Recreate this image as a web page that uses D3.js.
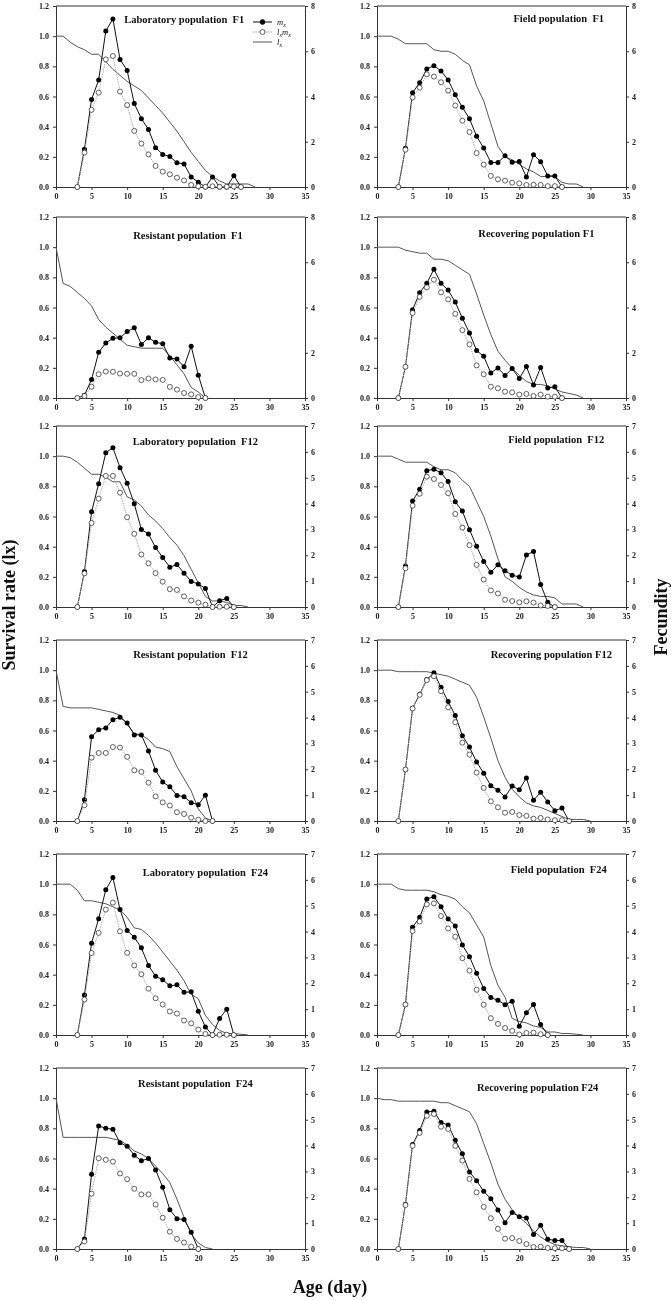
<!DOCTYPE html>
<html>
<head>
<meta charset="utf-8">
<script src="https://cdn.jsdelivr.net/npm/d3@7"></script>
<style>
body { margin: 0; background: #fff; }
svg { will-change: transform; }
text { font-family: "Liberation Serif", "Times New Roman", serif; font-weight: bold; fill: #111; }
</style>
</head>
<body>
<div id="chart"></div>
<script>
// ages: mx and lxmx start at day 3, lx starts at day 0
const mxStart = 3;

const labF1_mx   = [0, 1.67, 3.87, 4.73, 6.90, 7.43, 5.64, 5.15, 3.69, 3.02, 2.54, 1.74, 1.44, 1.35, 1.07, 1.02, 0.44, 0.21, 0, 0.44, 0, 0, 0.50, 0];
const labF1_lxmx = [0, 1.52, 3.41, 4.17, 5.64, 5.79, 4.22, 3.62, 2.48, 1.92, 1.44, 0.93, 0.68, 0.56, 0.41, 0.29, 0.09, 0.03, 0.01, 0.03, 0.01, 0.01, 0.02, 0];
const labF1_lx   = [1.0, 1.0, 0.96, 0.93, 0.91, 0.88, 0.88, 0.83, 0.78, 0.74, 0.70, 0.67, 0.64, 0.59, 0.54, 0.49, 0.43, 0.37, 0.30, 0.23, 0.17, 0.11, 0.07, 0.04, 0.02, 0.02, 0.02, 0.02, 0];

const fieldF1_mx   = [0, 1.71, 4.17, 4.61, 5.22, 5.36, 5.13, 4.73, 4.08, 3.52, 3.02, 2.24, 1.72, 1.08, 1.08, 1.38, 1.09, 1.13, 0.44, 1.43, 1.12, 0.49, 0.49, 0];
const fieldF1_lxmx = [0, 1.65, 3.96, 4.39, 4.98, 4.88, 4.63, 4.26, 3.60, 2.93, 2.43, 1.50, 0.99, 0.49, 0.34, 0.28, 0.19, 0.16, 0.09, 0.10, 0.09, 0.04, 0.04, 0];
const fieldF1_lx   = [1.0, 1.0, 1.0, 0.98, 0.95, 0.95, 0.95, 0.95, 0.91, 0.90, 0.90, 0.88, 0.84, 0.81, 0.67, 0.57, 0.42, 0.27, 0.20, 0.18, 0.15, 0.12, 0.10, 0.07, 0.07, 0.07, 0.03, 0.02, 0.02, 0];

const resF1_mx   = [0, 0.12, 0.82, 2.02, 2.43, 2.64, 2.66, 2.94, 3.10, 2.37, 2.66, 2.46, 2.40, 1.77, 1.72, 1.38, 2.29, 1.01, 0];
const resF1_lxmx = [0, 0.09, 0.50, 1.05, 1.17, 1.16, 1.08, 1.07, 1.07, 0.79, 0.86, 0.82, 0.80, 0.49, 0.37, 0.22, 0.16, 0.04, 0];
const resF1_lx   = [1.0, 0.76, 0.74, 0.70, 0.66, 0.61, 0.52, 0.47, 0.43, 0.39, 0.35, 0.34, 0.33, 0.33, 0.33, 0.33, 0.28, 0.22, 0.16, 0.07, 0.04, 0];

const recF1_mx   = [0, 1.38, 3.90, 4.65, 5.07, 5.69, 5.07, 4.77, 4.24, 3.53, 2.87, 2.10, 1.84, 1.11, 1.33, 0.99, 1.30, 0.86, 1.39, 0.58, 1.35, 0.44, 0.50, 0];
const recF1_lxmx = [0, 1.38, 3.76, 4.47, 4.89, 5.23, 4.67, 4.36, 3.72, 3.00, 2.37, 1.44, 1.05, 0.50, 0.43, 0.28, 0.25, 0.15, 0.18, 0.09, 0.15, 0.06, 0.06, 0];
const recF1_lx   = [1.0, 1.0, 1.0, 1.0, 0.98, 0.97, 0.96, 0.96, 0.92, 0.92, 0.91, 0.88, 0.85, 0.82, 0.69, 0.55, 0.42, 0.31, 0.25, 0.20, 0.15, 0.11, 0.09, 0.09, 0.08, 0.06, 0.04, 0.03, 0.02, 0];

const labF12_mx   = [0, 1.37, 3.68, 4.77, 5.97, 6.16, 5.39, 4.79, 3.99, 3.00, 2.82, 2.30, 1.91, 1.54, 1.64, 1.31, 0.99, 0.89, 0.72, 0, 0.24, 0.33, 0];
const labF12_lxmx = [0, 1.30, 3.25, 4.19, 5.07, 5.07, 4.42, 3.47, 2.83, 2.03, 1.69, 1.31, 0.98, 0.69, 0.66, 0.41, 0.25, 0.17, 0.09, 0, 0.01, 0.01, 0];
const labF12_lx   = [1.0, 1.0, 0.99, 0.96, 0.92, 0.88, 0.88, 0.86, 0.83, 0.83, 0.73, 0.71, 0.67, 0.61, 0.57, 0.52, 0.46, 0.41, 0.34, 0.25, 0.16, 0.07, 0.04, 0.04, 0.03, 0.01, 0.01, 0];

const fieldF12_mx   = [0, 1.59, 4.10, 4.55, 5.27, 5.33, 5.19, 4.85, 4.07, 3.71, 2.99, 2.35, 1.76, 1.34, 1.63, 1.40, 1.23, 1.16, 2.01, 2.15, 0.87, 0.18, 0];
const fieldF12_lxmx = [0, 1.50, 3.92, 4.38, 5.04, 4.95, 4.72, 4.40, 3.60, 3.07, 2.39, 1.63, 1.06, 0.64, 0.52, 0.28, 0.23, 0.18, 0.22, 0.17, 0.06, 0.04, 0];
const fieldF12_lx   = [1.0, 1.0, 1.0, 0.98, 0.96, 0.96, 0.96, 0.96, 0.93, 0.91, 0.91, 0.89, 0.84, 0.80, 0.70, 0.60, 0.47, 0.32, 0.20, 0.17, 0.13, 0.10, 0.08, 0.07, 0.07, 0.06, 0.02, 0.02, 0.02, 0];

const resF12_mx   = [0, 0.82, 3.26, 3.53, 3.60, 3.92, 4.01, 3.79, 3.33, 3.33, 2.71, 1.96, 1.51, 1.32, 0.99, 0.94, 0.71, 0.63, 1.00, 0];
const resF12_lxmx = [0, 0.61, 2.45, 2.63, 2.63, 2.86, 2.84, 2.48, 1.96, 1.90, 1.48, 0.95, 0.72, 0.60, 0.34, 0.27, 0.13, 0.05, 0, 0];
const resF12_lx   = [1.0, 0.76, 0.75, 0.75, 0.75, 0.75, 0.74, 0.73, 0.72, 0.70, 0.64, 0.58, 0.57, 0.54, 0.49, 0.48, 0.46, 0.36, 0.28, 0.20, 0.08, 0.02, 0];

const recF12_mx   = [0, 1.99, 4.36, 4.90, 5.47, 5.73, 5.17, 4.62, 4.08, 3.30, 2.86, 2.28, 1.85, 1.36, 1.19, 0.93, 1.35, 1.21, 1.66, 0.80, 1.11, 0.73, 0.40, 0.50, 0];
const recF12_lxmx = [0, 1.99, 4.35, 4.88, 5.45, 5.60, 5.02, 4.40, 3.82, 3.03, 2.57, 1.87, 1.28, 0.76, 0.53, 0.32, 0.35, 0.23, 0.20, 0.09, 0.12, 0.06, 0.03, 0.03, 0];
const recF12_lx   = [1.0, 1.0, 1.0, 0.99, 0.99, 0.99, 0.99, 0.99, 0.98, 0.97, 0.96, 0.94, 0.92, 0.90, 0.82, 0.69, 0.55, 0.40, 0.29, 0.21, 0.16, 0.12, 0.10, 0.09, 0.07, 0.05, 0.03, 0.01, 0.01, 0.01, 0];

const labF24_mx   = [0, 1.55, 3.55, 4.50, 5.62, 6.09, 4.85, 4.04, 3.78, 3.37, 2.69, 2.27, 2.14, 1.90, 1.94, 1.65, 1.67, 0.92, 0.31, 0, 0.64, 1.00, 0];
const labF24_lxmx = [0, 1.37, 3.17, 3.95, 4.85, 5.12, 4.01, 3.18, 2.69, 2.35, 1.79, 1.42, 1.18, 0.91, 0.83, 0.56, 0.45, 0.21, 0.04, 0, 0.01, 0.01, 0];
const labF24_lx   = [1.0, 1.0, 1.0, 0.96, 0.89, 0.89, 0.88, 0.87, 0.85, 0.83, 0.78, 0.71, 0.70, 0.66, 0.61, 0.55, 0.49, 0.43, 0.36, 0.27, 0.24, 0.13, 0.07, 0.03, 0.01, 0.01, 0.005, 0];

const fieldF24_mx   = [0, 1.18, 4.17, 4.55, 5.26, 5.35, 4.96, 4.49, 4.22, 3.48, 3.03, 2.39, 1.80, 1.45, 1.34, 1.17, 1.31, 0.34, 0.86, 1.18, 0.41, 0];
const fieldF24_lxmx = [0, 1.18, 4.02, 4.39, 5.05, 5.09, 4.60, 4.12, 3.80, 2.97, 2.49, 1.75, 1.17, 0.65, 0.43, 0.27, 0.16, 0.02, 0.08, 0.09, 0.03, 0];
const fieldF24_lx   = [1.0, 1.0, 1.0, 0.97, 0.96, 0.96, 0.96, 0.96, 0.95, 0.93, 0.92, 0.90, 0.85, 0.81, 0.73, 0.65, 0.46, 0.33, 0.25, 0.11, 0.09, 0.08, 0.06, 0.05, 0.02, 0.02, 0.01, 0.01, 0.005, 0];

const resF24_mx   = [0, 0.39, 2.89, 4.76, 4.67, 4.63, 4.11, 3.97, 3.63, 3.41, 3.50, 3.06, 2.39, 1.52, 1.17, 1.14, 0.65, 0];
const resF24_lxmx = [0, 0.29, 2.14, 3.51, 3.45, 3.38, 2.92, 2.70, 2.33, 2.11, 2.11, 1.72, 1.21, 0.67, 0.39, 0.25, 0.09, 0];
const resF24_lx   = [1.0, 0.74, 0.74, 0.74, 0.74, 0.74, 0.74, 0.74, 0.73, 0.72, 0.69, 0.65, 0.63, 0.60, 0.55, 0.50, 0.44, 0.33, 0.21, 0.10, 0.04, 0.01, 0];

const recF24_mx   = [0, 1.73, 4.04, 4.58, 5.30, 5.33, 4.89, 4.80, 4.21, 3.68, 2.98, 2.64, 2.23, 1.94, 1.51, 1.02, 1.41, 1.25, 1.20, 0.56, 0.92, 0.38, 0.33, 0.33, 0];
const recF24_lxmx = [0, 1.70, 3.99, 4.49, 5.15, 5.22, 4.73, 4.64, 3.99, 3.42, 2.71, 2.19, 1.63, 1.19, 0.78, 0.40, 0.42, 0.31, 0.19, 0.08, 0.09, 0.04, 0.03, 0.03, 0];
const recF24_lx   = [1.0, 0.99, 0.99, 0.98, 0.98, 0.98, 0.98, 0.98, 0.98, 0.97, 0.97, 0.95, 0.93, 0.91, 0.83, 0.70, 0.57, 0.43, 0.33, 0.26, 0.21, 0.17, 0.12, 0.08, 0.05, 0.03, 0.02, 0.015, 0.01, 0.01, 0];

const xTicks = [0, 5, 10, 15, 20, 25, 30, 35];
const lxTicks = [0, 0.2, 0.4, 0.6, 0.8, 1.0, 1.2];
const fecTicksF1 = [0, 2, 4, 6, 8];
const fecTicks = [0, 1, 2, 3, 4, 5, 6, 7];

const panels = [
  {title: 'Laboratory population  F1', mx: labF1_mx, lxmx: labF1_lxmx, lx: labF1_lx, fec: fecTicksF1, col: 0, row: 0, tx: 0.515, ty: 17, legend: true},
  {title: 'Field population  F1', mx: fieldF1_mx, lxmx: fieldF1_lxmx, lx: fieldF1_lx, fec: fecTicksF1, col: 1, row: 0, tx: 0.73, ty: 16},
  {title: 'Resistant population  F1', mx: resF1_mx, lxmx: resF1_lxmx, lx: resF1_lx, fec: fecTicksF1, col: 0, row: 1, tx: 0.53, ty: 22},
  {title: 'Recovering population F1', mx: recF1_mx, lxmx: recF1_lxmx, lx: recF1_lx, fec: fecTicksF1, col: 1, row: 1, tx: 0.64, ty: 20},
  {title: 'Laboratory population  F12', mx: labF12_mx, lxmx: labF12_lxmx, lx: labF12_lx, fec: fecTicks, col: 0, row: 2, tx: 0.56, ty: 19},
  {title: 'Field population  F12', mx: fieldF12_mx, lxmx: fieldF12_lxmx, lx: fieldF12_lx, fec: fecTicks, col: 1, row: 2, tx: 0.72, ty: 17},
  {title: 'Resistant population  F12', mx: resF12_mx, lxmx: resF12_lxmx, lx: resF12_lx, fec: fecTicks, col: 0, row: 3, tx: 0.54, ty: 18},
  {title: 'Recovering population F12', mx: recF12_mx, lxmx: recF12_lxmx, lx: recF12_lx, fec: fecTicks, col: 1, row: 3, tx: 0.70, ty: 18},
  {title: 'Laboratory population  F24', mx: labF24_mx, lxmx: labF24_lxmx, lx: labF24_lx, fec: fecTicks, col: 0, row: 4, tx: 0.60, ty: 22},
  {title: 'Field population  F24', mx: fieldF24_mx, lxmx: fieldF24_lxmx, lx: fieldF24_lx, fec: fecTicks, col: 1, row: 4, tx: 0.73, ty: 19},
  {title: 'Resistant population  F24', mx: resF24_mx, lxmx: resF24_lxmx, lx: resF24_lx, fec: fecTicks, col: 0, row: 5, tx: 0.56, ty: 19},
  {title: 'Recovering population F24', mx: recF24_mx, lxmx: recF24_lxmx, lx: recF24_lx, fec: fecTicks, col: 1, row: 5, tx: 0.645, ty: 23}
];

const width = 671, height = 1300;
const cols = [{x: 56, w: 249}, {x: 377, w: 249}];
const rowTops = [6, 217, 426, 640, 854, 1068];
const ph = 181;
const axisColor = '#333';

const svg = d3.select('#chart')
    .append('svg')
    .attr('width', width)
    .attr('height', height);

function styleAxis(sel) {
    sel.select('.domain').attr('stroke', axisColor);
    sel.selectAll('.tick line').attr('stroke', axisColor);
    sel.selectAll('.tick text').style('font-size', '8px').style('fill', '#222');
}

panels.forEach(p => {
    const c = cols[p.col];
    const g = svg.append('g').attr('transform', `translate(${c.x},${rowTops[p.row]})`);

    const x = d3.scaleLinear().domain([0, 35]).range([0, c.w]);
    const yL = d3.scaleLinear().domain([0, 1.2]).range([ph, 0]);
    const yR = d3.scaleLinear().domain([0, p.fec[p.fec.length - 1]]).range([ph, 0]);

    // frame top line
    g.append('line')
        .attr('x1', 0).attr('x2', c.w).attr('y1', 0).attr('y2', 0)
        .attr('stroke', axisColor);

    g.append('g')
        .attr('transform', `translate(0,${ph})`)
        .call(d3.axisBottom(x).tickValues(xTicks).tickSize(3).tickPadding(3))
        .call(styleAxis);

    g.append('g')
        .call(d3.axisLeft(yL).tickValues(lxTicks).tickFormat(d3.format('.1f')).tickSize(3).tickPadding(4))
        .call(styleAxis);

    g.append('g')
        .attr('transform', `translate(${c.w},0)`)
        .call(d3.axisRight(yR).tickValues(p.fec).tickFormat(d3.format('d')).tickSize(3).tickPadding(3))
        .call(styleAxis);

    // survival curve
    const lxLine = d3.line()
        .x((d, i) => x(i))
        .y(d => yL(d));

    g.append('path')
        .datum(p.lx)
        .attr('fill', 'none')
        .attr('stroke', '#555')
        .attr('stroke-width', 1)
        .attr('d', lxLine);

    const fecLine = d3.line()
        .x((d, i) => x(i + mxStart))
        .y(d => yR(d));

    // mx
    g.append('path')
        .datum(p.mx)
        .attr('fill', 'none')
        .attr('stroke', '#111')
        .attr('stroke-width', 1)
        .attr('d', fecLine);

    g.selectAll('circle.mx')
        .data(p.mx)
        .enter()
        .append('circle')
        .attr('class', 'mx')
        .attr('r', 2.5)
        .attr('fill', '#000')
        .attr('cx', (d, i) => x(i + mxStart))
        .attr('cy', d => yR(d));

    // lxmx
    g.append('path')
        .datum(p.lxmx)
        .attr('fill', 'none')
        .attr('stroke', '#aaa')
        .attr('stroke-width', 1)
        .attr('stroke-dasharray', '1.5,1')
        .attr('d', fecLine);

    g.selectAll('circle.lxmx')
        .data(p.lxmx)
        .enter()
        .append('circle')
        .attr('class', 'lxmx')
        .attr('r', 2.5)
        .attr('fill', '#fff')
        .attr('stroke', '#222')
        .attr('stroke-width', 0.7)
        .attr('cx', (d, i) => x(i + mxStart))
        .attr('cy', d => yR(d));

    g.append('text')
        .attr('x', p.tx * c.w)
        .attr('y', p.ty)
        .attr('text-anchor', 'middle')
        .style('font-size', '10.5px')
        .style('white-space', 'pre')
        .text(p.title);

    if (p.legend) {
        const lg = g.append('g').attr('transform', 'translate(197,16)');
        const items = [
            {key: 'm', pre: '', fill: '#000', stroke: '#111', dash: null, circle: true},
            {key: 'm', pre: 'l', fill: '#fff', stroke: '#aaa', dash: '1.5,1', circle: true},
            {key: '', pre: 'l', fill: null, stroke: '#555', dash: null, circle: false}
        ];
        items.forEach((it, i) => {
            const row = lg.append('g').attr('transform', `translate(0,${i * 10})`);
            row.append('line')
                .attr('x1', 0).attr('x2', 19).attr('y1', 0).attr('y2', 0)
                .attr('stroke', it.stroke)
                .attr('stroke-dasharray', it.dash);
            if (it.circle) {
                row.append('circle')
                    .attr('cx', 9.5).attr('cy', 0).attr('r', 2.5)
                    .attr('fill', it.fill)
                    .attr('stroke', '#222').attr('stroke-width', 0.7);
            }
            const t = row.append('text')
                .attr('x', 24).attr('y', 3)
                .style('font-size', '8.5px')
                .style('font-style', 'italic')
                .style('font-weight', 'normal');
            if (it.pre) {
                t.append('tspan').text(it.pre);
                t.append('tspan').attr('dy', 2).style('font-size', '6px').text('x');
                if (it.key) {
                    t.append('tspan').attr('dy', -2).text(it.key);
                    t.append('tspan').attr('dy', 2).style('font-size', '6px').text('x');
                }
            } else {
                t.append('tspan').text(it.key);
                t.append('tspan').attr('dy', 2).style('font-size', '6px').text('x');
            }
        });
    }
});

// shared axis titles
svg.append('text')
    .attr('transform', 'translate(15,605) rotate(-90)')
    .attr('text-anchor', 'middle')
    .style('font-size', '18px')
    .text('Survival rate (lx)');

svg.append('text')
    .attr('transform', 'translate(667,617) rotate(-90)')
    .attr('text-anchor', 'middle')
    .style('font-size', '18px')
    .text('Fecundity');

svg.append('text')
    .attr('x', 330)
    .attr('y', 1293)
    .attr('text-anchor', 'middle')
    .style('font-size', '18px')
    .text('Age (day)');
</script>
</body>
</html>
